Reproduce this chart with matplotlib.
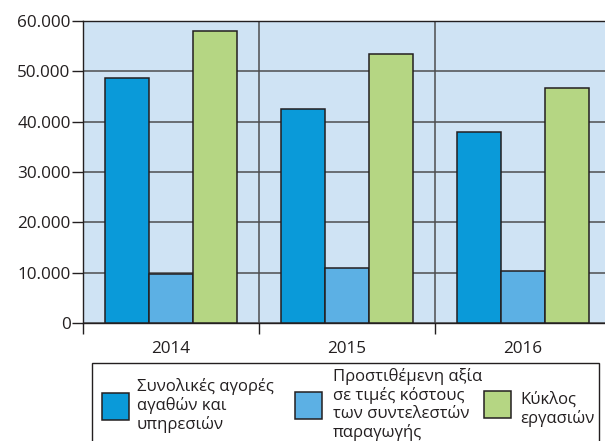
import matplotlib
matplotlib.use("Agg")
import matplotlib.pyplot as plt
import matplotlib.patches as mpatches
import numpy as np

plt.rcParams['font.family'] = ['Open Sans', 'DejaVu Sans']

years = ["2014", "2015", "2016"]
series_names = ["Συνολικές αγορές\nαγαθών και\nυπηρεσιών",
                "Προστιθέμενη αξία\nσε τιμές κόστους\nτων συντελεστών\nπαραγωγής",
                "Κύκλος\nεργασιών"]
purchases = [48600, 42600, 37900]
value_added = [9700, 10900, 10400]
turnover = [58000, 53500, 46700]
yticks = [0, 10000, 20000, 30000, 40000, 50000, 60000]
ytick_labels = ["0", "10.000", "20.000", "30.000", "40.000", "50.000", "60.000"]

colors = ["#0a9ad9", "#5cb0e4", "#b5d683"]
edge = "#231f20"
bg = "#cfe3f4"
grid_c = "#4d4d4f"

W, H = 605, 441
fig = plt.figure(figsize=(W / 100, H / 100), dpi=100)

def fx(px):
    return px / W

def fy(py):
    return 1 - py / H

ax_left, ax_right, ax_top, ax_bottom = 83, 611, 21, 323
ax = fig.add_axes([fx(ax_left), fy(ax_bottom), fx(ax_right - ax_left), (ax_bottom - ax_top) / H])
ax.set_facecolor(bg)

x = np.arange(len(years))
bw = 0.25
data = [purchases, value_added, turnover]
for i, vals in enumerate(data):
    ax.bar(x + (i - 1) * bw, vals, width=bw, color=colors[i], edgecolor=edge,
           linewidth=1.1, zorder=3)

ax.set_xlim(-0.5, len(years) - 0.5)
ax.set_ylim(0, 60000)
ax.set_yticks(yticks)
ax.set_yticklabels(ytick_labels)
ax.set_xticks(x)
ax.set_xticklabels(years)
ax.set_xticks(np.arange(-0.5, len(years)), minor=True)

ax.grid(True, axis='y', which='major', color=grid_c, linewidth=1.1, zorder=1)
ax.grid(True, axis='x', which='minor', color=grid_c, linewidth=1.1, zorder=1)
ax.set_axisbelow(True)

ax.tick_params(axis='y', length=8, width=1.0, color=edge, pad=1, labelsize=12.3, labelcolor="#231f20")
ax.tick_params(axis='x', which='major', length=0, pad=13, labelsize=12.3, labelcolor="#231f20")
ax.tick_params(axis='x', which='minor', length=8, width=1.0, color=edge)
for s in ['left', 'bottom', 'top', 'right']:
    ax.spines[s].set_color(edge)
    ax.spines[s].set_linewidth(1.0)

# legend box drawn manually
box_l, box_t, box_r, box_b = 92, 362.5, 599, 460
fig.patches.append(mpatches.Rectangle((fx(box_l), fy(box_b)), fx(box_r - box_l), (box_b - box_t) / H,
                                      transform=fig.transFigure, facecolor='white',
                                      edgecolor=edge, linewidth=1.0))
patch_pos = [(102, 393), (295, 392), (484, 391)]
text_pos = [(137, 405.5), (333, 404.5), (520, 409)]
for i in range(3):
    px, py = patch_pos[i]
    fig.patches.append(mpatches.Rectangle((fx(px), fy(py + 27)), fx(27), 27 / H,
                                          transform=fig.transFigure, facecolor=colors[i],
                                          edgecolor=edge, linewidth=1.1))
    tx, ty = text_pos[i]
    fig.text(fx(tx), fy(ty), series_names[i], ha='left', va='center', fontsize=12,
             color="#231f20", linespacing=1.17)

fig.savefig("out.png", dpi=100)
